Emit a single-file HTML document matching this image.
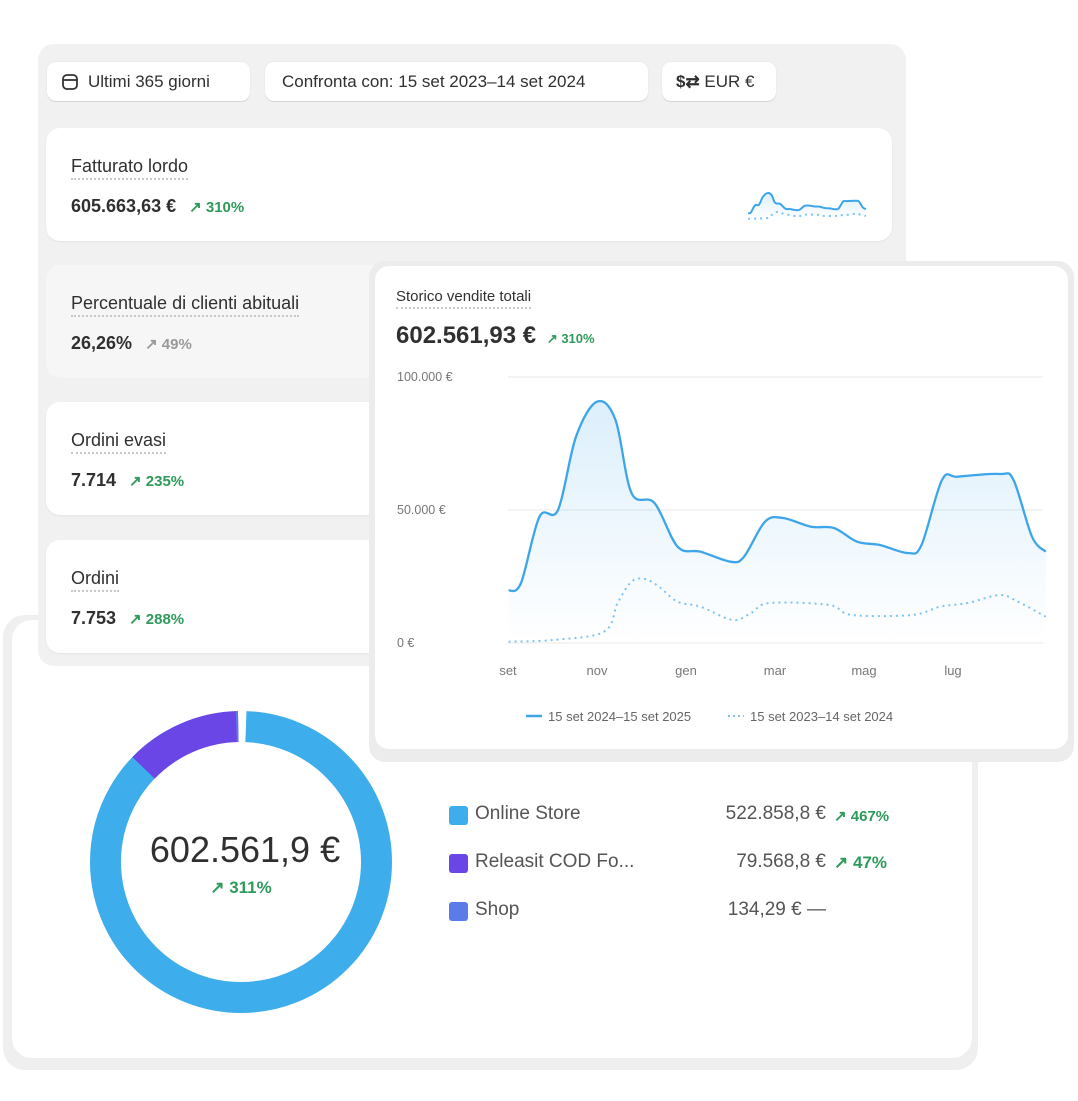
<!DOCTYPE html>
<html><head><meta charset="utf-8">
<style>
*{box-sizing:border-box;margin:0;padding:0}
body{width:1078px;height:1101px;background:#fff;position:relative;overflow:hidden;font-family:"Liberation Sans",sans-serif;color:#303030}
.abs{position:absolute}
.back{left:38px;top:44px;width:868px;height:622px;background:#f1f1f1;border-radius:16px}
.btn{position:absolute;top:62px;height:39px;background:#fff;border-radius:9px;box-shadow:0 1px 0 #d4d4d4,0 0 0 1px #ececec;font-size:17px;line-height:39px;color:#303030;padding-left:17px}
.card{position:absolute;left:46px;width:846px;height:113px;background:#fff;border-radius:14px;box-shadow:0 1px 2px rgba(0,0,0,.06)}
.ttl{position:absolute;left:25px;top:28px;font-size:18px;color:#303030;border-bottom:2px dotted #c8c8c8;padding-bottom:2px;line-height:20px}
.val{position:absolute;left:25px;top:68px;font-size:18px;font-weight:bold;color:#303030;line-height:20px;white-space:nowrap}
.g{color:#2e9a5b;font-size:15px;font-weight:bold;margin-left:8px}
.gr{color:#9a9a9a;font-size:15px;font-weight:bold;margin-left:8px}
.bottom-outer{left:3px;top:615px;width:975px;height:455px;background:#efefef;border-radius:22px}
.bottom{left:12px;top:620px;width:960px;height:438px;background:#fff;border-radius:20px}
.chartouter{left:369px;top:261px;width:705px;height:501px;background:#ececec;border-radius:16px}
.chart{left:375px;top:266px;width:693px;height:483px;background:#fff;border-radius:14px}
.leg{position:absolute;font-size:19px;color:#555}
.sq{position:absolute;width:19px;height:19px;border-radius:3px}
</style></head><body>
<div class="abs bottom-outer"></div>
<div class="abs bottom"></div>
<div class="abs back"></div>
<div class="btn" style="left:47px;width:203px"><svg width="18" height="18" viewBox="0 0 18 18" style="position:absolute;left:14px;top:11px"><rect x="2" y="2" width="14" height="14" rx="4" fill="none" stroke="#333" stroke-width="1.8"/><line x1="2" y1="7" x2="16" y2="7" stroke="#333" stroke-width="1.8"/></svg><span style="margin-left:24px">Ultimi 365 giorni</span></div>
<div class="btn" style="left:265px;width:383px">Confronta con: 15 set 2023–14 set 2024</div>
<div class="btn" style="left:662px;width:114px;padding-left:14px"><b style="font-weight:bold">$⇄</b> EUR €</div>

<div class="card" style="top:128px"><div class="ttl">Fatturato lordo</div><div class="val">605.663,63 € <span class="g">↗ 310%</span></div></div>
<div class="card" style="top:265px;background:#f6f6f6;box-shadow:none"><div class="ttl">Percentuale di clienti abituali</div><div class="val">26,26% <span class="gr">↗ 49%</span></div></div>
<div class="card" style="top:402px"><div class="ttl">Ordini evasi</div><div class="val">7.714 <span class="g">↗ 235%</span></div></div>
<div class="card" style="top:540px"><div class="ttl">Ordini</div><div class="val">7.753 <span class="g">↗ 288%</span></div></div>

<svg class="abs" style="left:0;top:0" width="1078" height="1101" id="spark">
<defs><linearGradient id="fg" x1="0" y1="0" x2="0" y2="1"><stop offset="0" stop-color="#3da5ea" stop-opacity=".18"/><stop offset="1" stop-color="#3da5ea" stop-opacity="0"/></linearGradient></defs>
<g transform="translate(748,193) scale(0.2193,0.107) translate(-508,-401)">
<path class="mainfill" fill="url(#fg)"/>
<path class="dot" fill="none" stroke="#7cc4f2" stroke-width="2" stroke-dasharray="2 4" vector-effect="non-scaling-stroke"/>
<path class="main" fill="none" stroke="#3da5ea" stroke-width="2" vector-effect="non-scaling-stroke"/>
</g></svg>

<!-- donut -->
<svg class="abs" style="left:0;top:0" width="1078" height="1101">
<g transform="translate(241,862)">
<circle r="135.5" fill="none" stroke="#3eadec" stroke-width="31" stroke-dasharray="774.4 100" stroke-dashoffset="-5" transform="rotate(-90)"/>
<circle r="135.5" fill="none" stroke="#6b46e6" stroke-width="31" stroke-dasharray="106 900" stroke-dashoffset="0" transform="rotate(-136)"/>
<circle r="135.5" fill="none" stroke="#5b7be8" stroke-width="31" stroke-dasharray="2 900" transform="rotate(-92)"/>
</g>
<text x="245" y="862" text-anchor="middle" font-family="Liberation Sans" font-size="36" fill="#303030">602.561,9 €</text>
<text x="241" y="893" text-anchor="middle" font-family="Liberation Sans" font-size="17" font-weight="bold" fill="#2e9a5b">↗ 311%</text>
</svg>
<div class="sq" style="left:449px;top:806px;background:#3eadec"></div>
<div class="leg" style="left:475px;top:803px">Online Store</div>
<div class="leg" style="left:600px;width:226px;text-align:right;top:803px">522.858,8 €</div>
<div class="abs g" style="left:826px;top:807px">↗ 467%</div>
<div class="sq" style="left:449px;top:854px;background:#6b46e6"></div>
<div class="leg" style="left:475px;top:851px">Releasit COD Fo...</div>
<div class="leg" style="left:600px;width:226px;text-align:right;top:851px">79.568,8 €</div>
<div class="abs g" style="left:826px;top:853px;font-size:17px">↗ 47%</div>
<div class="sq" style="left:449px;top:902px;background:#5b7be8"></div>
<div class="leg" style="left:475px;top:899px">Shop</div>
<div class="leg" style="left:600px;width:226px;text-align:right;top:899px">134,29 € —</div>

<div class="abs chartouter"></div>
<div class="abs chart"></div>
<div class="abs" style="left:396px;top:288px;font-size:15px;color:#303030;border-bottom:2px dotted #ccc;padding-bottom:2px">Storico vendite totali</div>
<div class="abs" style="left:396px;top:322px;font-size:24px;font-weight:bold;color:#303030;white-space:nowrap">602.561,93 € <span style="color:#2e9a5b;font-size:13px;margin-left:4px">↗ 310%</span></div>
<svg class="abs" style="left:0;top:0" width="1078" height="1101" id="big">
<g font-family="Liberation Sans" font-size="12.5" fill="#777">
<text x="397" y="381">100.000 €</text><text x="397" y="514">50.000 €</text><text x="397" y="647">0 €</text>
<g text-anchor="middle" font-size="13"><text x="508" y="675">set</text><text x="597" y="675">nov</text><text x="686" y="675">gen</text><text x="775" y="675">mar</text><text x="864" y="675">mag</text><text x="953" y="675">lug</text></g>
<text x="548" y="721" font-size="13" fill="#666">15 set 2024–15 set 2025</text>
<text x="750" y="721" font-size="13" fill="#666">15 set 2023–14 set 2024</text>
</g>
<g stroke="#f0f0f0" stroke-width="1.5"><line x1="508" y1="377" x2="1043" y2="377"/><line x1="508" y1="510" x2="1043" y2="510"/><line x1="508" y1="643" x2="1043" y2="643"/></g>
<line x1="526" y1="716" x2="542" y2="716" stroke="#3da5ea" stroke-width="2.5"/>
<line x1="728" y1="716" x2="744" y2="716" stroke="#7cc4f2" stroke-width="2" stroke-dasharray="2 3"/>
<path class="mainfill" fill="url(#fg)"/>
<path class="dot" fill="none" stroke="#7cc4f2" stroke-width="2" stroke-dasharray="2 4"/>
<path class="main" fill="none" stroke="#3da5ea" stroke-width="2.3"/>
</svg>
<script>
var M=[[508.6,590.7],[521,583],[539.5,516.7],[558,510],[576,436.7],[597,401.7],[615.5,420],[631.5,493],[654.5,503],[677.6,546.7],[700.6,551.7],[730.5,561.7],[744,556.7],[765,521.7],[783,518],[811,526.7],[834,528],[857,541.7],[880,545],[907.7,553],[921.5,545],[942,480],[958,476.7],[999.8,474],[1013.5,480],[1032,536.7],[1045.8,551.7]];
var D=[[508.6,641.7],[553,640],[604,631.7],[617.6,603],[631.5,581.7],[645,579],[659,586.7],[677.6,601.7],[700.6,606.7],[732.6,620],[751,613],[769.6,603],[829,605],[852,615],[912,615],[940,606.7],[967.7,603],[999.8,595],[1018,601.7],[1045.8,616.7]];
function cr(p){var d="M"+p[0][0]+","+p[0][1];for(var i=0;i<p.length-1;i++){var a=p[i-1]||p[i],b=p[i],c=p[i+1],e=p[i+2]||c;d+=" C"+(b[0]+(c[0]-a[0])/6)+","+(b[1]+(c[1]-a[1])/6)+" "+(c[0]-(e[0]-b[0])/6)+","+(c[1]-(e[1]-b[1])/6)+" "+c[0]+","+c[1];}return d;}
var m=cr(M),d=cr(D),f=m+" L1045.8,643 L508.6,643 Z";
document.querySelectorAll('.main').forEach(function(x){x.setAttribute('d',m)});
document.querySelectorAll('.dot').forEach(function(x){x.setAttribute('d',d)});
document.querySelectorAll('.mainfill').forEach(function(x){x.setAttribute('d',f)});
</script>
</body></html>
